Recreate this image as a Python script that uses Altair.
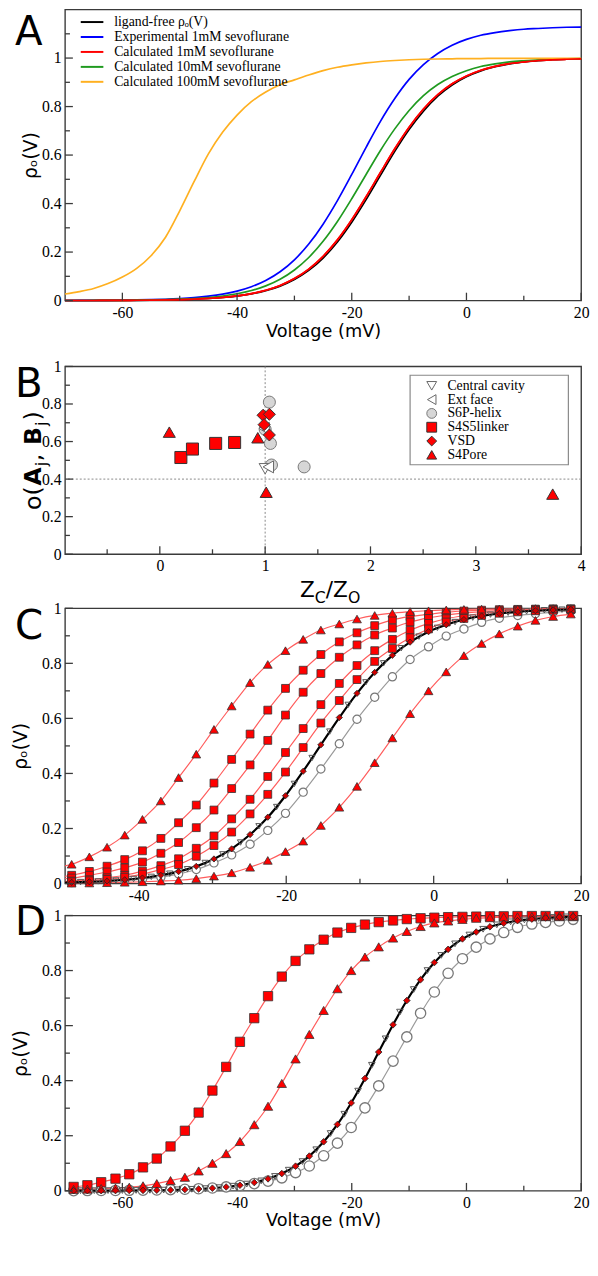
import altair as alt
import pandas as pd

# ---------------- Panel A data ----------------
A_V = [-70, -67.5, -65, -62.5, -60, -57.5, -55, -52.5, -50, -47.5, -45, -42.5, -40,
       -37.5, -35, -32.5, -30, -27.5, -25, -22.5, -20, -17.5, -15, -12.5, -10, -7.5,
       -5, -2.5, 0, 2.5, 5, 7.5, 10, 12.5, 15, 17.5, 20]
A_LIGAND_FREE = [0.0002, 0.0002, 0.0003, 0.0005, 0.0008, 0.0011, 0.0017, 0.0025, 0.0038, 0.0056,
                 0.0084, 0.0125, 0.0186, 0.0275, 0.0406, 0.0596, 0.0867, 0.1243, 0.1754, 0.2414,
                 0.3226, 0.416, 0.516, 0.615, 0.705, 0.781, 0.843, 0.889, 0.923, 0.947, 0.964,
                 0.976, 0.984, 0.989, 0.993, 0.995, 0.997]
A_EXP_1MM = [0.0003, 0.0005, 0.0008, 0.0011, 0.0017, 0.0025, 0.0037, 0.0055, 0.0082, 0.0121,
             0.018, 0.0265, 0.039, 0.057, 0.0826, 0.1187, 0.168, 0.233, 0.315, 0.412, 0.520,
             0.632, 0.739, 0.833, 0.912, 0.973, 1.019, 1.053, 1.077, 1.094, 1.105, 1.113, 1.119,
             1.122, 1.125, 1.127, 1.128]
A_CALC_1MM = [0.0002, 0.0002, 0.0004, 0.0005, 0.0008, 0.0012, 0.0018, 0.0026, 0.0039, 0.0059,
              0.0088, 0.0131, 0.0195, 0.0289, 0.0425, 0.0624, 0.0906, 0.1297, 0.1824, 0.2503,
              0.3332, 0.428, 0.528, 0.626, 0.715, 0.790, 0.849, 0.894, 0.926, 0.950, 0.966,
              0.977, 0.984, 0.990, 0.993, 0.995, 0.997]
A_CALC_10MM = [0.0002, 0.0003, 0.0005, 0.0008, 0.0011, 0.0017, 0.0026, 0.0038, 0.0057, 0.0085,
               0.0127, 0.0189, 0.0280, 0.0413, 0.0605, 0.0880, 0.1262, 0.1777, 0.2444, 0.326,
               0.420, 0.520, 0.619, 0.708, 0.784, 0.845, 0.891, 0.924, 0.948, 0.965, 0.976,
               0.984, 0.989, 0.993, 0.995, 0.997, 0.998]
A_CALC_100MM = [0.027, 0.037, 0.050, 0.070, 0.097, 0.133, 0.185, 0.26, 0.37, 0.49, 0.605, 0.695,
                0.765, 0.82, 0.86, 0.89, 0.91, 0.93, 0.948, 0.962, 0.972, 0.98, 0.986, 0.99,
                0.993, 0.995, 0.996, 0.997, 0.998, 0.998, 0.999, 0.999, 0.999, 0.999, 0.999,
                0.999, 0.999]
A_SERIES = ["ligand-free \u03c1\u2092(V)", "Experimental 1mM sevoflurane",
            "Calculated 1mM sevoflurane", "Calculated 10mM sevoflurane",
            "Calculated 100mM sevoflurane"]
A_COLORS = ["#000000", "#0000ff", "#ff0000", "#1f9a1f", "#ffb020"]
A_X_MAJOR = [-60, -40, -20, 0, 20]
A_X_MINOR = [-50, -30, -10, 10]
A_Y_MAJOR = [0, 0.2, 0.4, 0.6, 0.8, 1]
A_Y_MINOR = [0.1, 0.3, 0.5, 0.7, 0.9, 1.1]

# ---------------- Panel B data ----------------
B_GROUPS = ["Central cavity", "Ext face", "S6P-helix", "S4S5linker", "VSD", "S4Pore"]
B_SHAPES = ["triangle-down", "triangle-left", "circle", "square", "diamond", "triangle-up"]
B_FILLS = ["#ffffff", "#ffffff", "#d6d6d6", "#ff0000", "#ff0000", "#ff0000"]
B_STROKES = ["#666666", "#666666", "#777777", "#333333", "#333333", "#333333"]
B_S6P_X = [1.00, 1.04, 1.05, 1.06, 1.37]
B_S6P_Y = [0.665, 0.81, 0.59, 0.475, 0.465]
B_CAV_X = [1.00]
B_CAV_Y = [0.455]
B_EXT_X = [0.99, 1.03]
B_EXT_Y = [0.67, 0.465]
B_S4S5_X = [0.20, 0.31, 0.53, 0.71]
B_S4S5_Y = [0.515, 0.56, 0.59, 0.595]
B_S4P_X = [0.09, 0.93, 1.01, 3.73]
B_S4P_Y = [0.65, 0.62, 0.33, 0.32]
B_VSD_X = [0.98, 1.04, 0.99, 1.04]
B_VSD_Y = [0.74, 0.745, 0.69, 0.635]
B_VLINE = [1]
B_HLINE = [0.4]
B_X_MAJOR = [0, 1, 2, 3, 4]
B_X_MINOR = [-0.5, 0.5, 1.5, 2.5, 3.5]
B_Y_MAJOR = [0, 0.2, 0.4, 0.6, 0.8, 1]
B_Y_MINOR = [0.1, 0.3, 0.5, 0.7, 0.9]

# ---------------- Panels C / D data ----------------
G = [-68.5, -66.1, -63.7, -61.2, -58.8, -56.4, -54.0, -51.6, -49.1, -46.7, -44.3, -41.9,
     -39.5, -37.0, -34.6, -32.2, -29.8, -27.4, -24.9, -22.5, -20.1, -17.7, -15.3, -12.8,
     -10.4, -8.0, -5.6, -3.2, -0.7, 1.7, 4.1, 6.5, 8.9, 11.4, 13.8, 16.2, 18.6]
LIGAND_FREE = [0.0002, 0.0003, 0.0004, 0.0006, 0.0009, 0.0013, 0.002, 0.0029, 0.0044, 0.0064,
               0.0094, 0.0138, 0.0201, 0.0298, 0.0433, 0.0624, 0.0894, 0.126, 0.178, 0.241,
               0.319, 0.408, 0.504, 0.603, 0.691, 0.767, 0.829, 0.877, 0.915, 0.940, 0.959,
               0.972, 0.981, 0.987, 0.991, 0.994, 0.996]
CAV_V = [-67.3, -64.9, -62.5, -60.0, -57.6, -55.2, -52.8, -50.4, -47.9, -45.5, -43.1, -40.7,
         -38.3, -35.8, -33.4, -31.0, -28.6, -26.2, -23.7, -21.3, -18.9, -16.5, -14.1, -11.6,
         -9.2, -6.8, -4.4, -2.0, 0.5, 2.9, 5.3, 7.7, 10.1, 12.6, 15.0, 17.4]
CAV_Y = [0.0002, 0.0003, 0.0005, 0.0008, 0.0011, 0.0016, 0.0024, 0.0035, 0.0053, 0.0077,
         0.0113, 0.0166, 0.0243, 0.0359, 0.052, 0.0748, 0.106, 0.149, 0.208, 0.278, 0.362,
         0.456, 0.552, 0.649, 0.731, 0.800, 0.855, 0.897, 0.929, 0.950, 0.966, 0.977, 0.984,
         0.989, 0.993, 0.995]
C_T1 = [0.012, 0.015, 0.019, 0.024, 0.030, 0.037, 0.045, 0.056, 0.070, 0.097, 0.132, 0.176,
        0.233, 0.300, 0.385, 0.470, 0.560, 0.645, 0.730, 0.796, 0.846, 0.887, 0.921, 0.943,
        0.961, 0.974, 0.982, 0.988, 0.991, 0.994, 0.996, 0.997, 0.998, 0.998, 0.999, 0.999, 0.999]
C_S1 = [0.0018, 0.0025, 0.0036, 0.005, 0.0075, 0.0105, 0.015, 0.021, 0.030, 0.044, 0.063, 0.087,
        0.119, 0.164, 0.221, 0.285, 0.365, 0.451, 0.543, 0.630, 0.709, 0.775, 0.832, 0.878,
        0.911, 0.937, 0.958, 0.970, 0.978, 0.985, 0.990, 0.993, 0.995, 0.996, 0.997, 0.998, 0.998]
C_S2 = [0.002, 0.003, 0.004, 0.005, 0.007, 0.010, 0.013, 0.016, 0.020, 0.030, 0.042, 0.057,
        0.078, 0.110, 0.149, 0.203, 0.267, 0.345, 0.431, 0.520, 0.612, 0.695, 0.763, 0.822,
        0.867, 0.903, 0.928, 0.950, 0.965, 0.975, 0.983, 0.988, 0.991, 0.994, 0.995, 0.996, 0.997]
C_S3 = [0.0004, 0.0006, 0.0009, 0.0014, 0.002, 0.003, 0.0042, 0.006, 0.009, 0.014, 0.021, 0.030,
        0.045, 0.065, 0.090, 0.128, 0.173, 0.235, 0.306, 0.389, 0.476, 0.563, 0.650, 0.727,
        0.792, 0.846, 0.887, 0.920, 0.945, 0.962, 0.973, 0.981, 0.987, 0.991, 0.993, 0.995, 0.996]
C_S4 = [0.0002, 0.0003, 0.0005, 0.0008, 0.0012, 0.0018, 0.0027, 0.004, 0.006, 0.010, 0.015,
        0.023, 0.034, 0.051, 0.069, 0.099, 0.138, 0.187, 0.253, 0.324, 0.405, 0.494, 0.583,
        0.665, 0.741, 0.807, 0.854, 0.893, 0.925, 0.950, 0.963, 0.974, 0.982, 0.987, 0.991,
        0.993, 0.995]
C_CIRC = [0.0002, 0.0003, 0.0004, 0.0006, 0.0009, 0.0013, 0.0018, 0.0025, 0.0035, 0.005, 0.007,
          0.011, 0.016, 0.023, 0.035, 0.051, 0.075, 0.104, 0.143, 0.193, 0.255, 0.332, 0.416,
          0.508, 0.597, 0.677, 0.751, 0.814, 0.860, 0.899, 0.925, 0.949, 0.964, 0.974, 0.980,
          0.986, 0.990]
C_T2 = [0.0001, 0.0001, 0.0002, 0.0002, 0.0003, 0.0004, 0.0006, 0.0009, 0.0013, 0.002, 0.003,
        0.0045, 0.0065, 0.009, 0.012, 0.018, 0.027, 0.039, 0.059, 0.084, 0.116, 0.154, 0.211,
        0.277, 0.353, 0.439, 0.529, 0.617, 0.700, 0.769, 0.828, 0.872, 0.907, 0.935, 0.956,
        0.970, 0.979]
D_SQ = [0.014, 0.020, 0.031, 0.044, 0.060, 0.085, 0.117, 0.161, 0.218, 0.284, 0.364, 0.450,
        0.541, 0.627, 0.707, 0.778, 0.835, 0.877, 0.912, 0.938, 0.955, 0.967, 0.976, 0.982,
        0.987, 0.990, 0.992, 0.994, 0.995, 0.996, 0.997, 0.997, 0.998, 0.998, 0.998, 0.998, 0.998]
D_TRI = [0.005, 0.006, 0.008, 0.010, 0.013, 0.018, 0.026, 0.037, 0.049, 0.072, 0.100, 0.135,
         0.179, 0.240, 0.307, 0.390, 0.479, 0.568, 0.655, 0.734, 0.800, 0.849, 0.886, 0.918,
         0.942, 0.960, 0.973, 0.980, 0.986, 0.990, 0.992, 0.994, 0.995, 0.996, 0.997, 0.998, 0.998]
D_CIRC = [0.0005, 0.0007, 0.0009, 0.0012, 0.0016, 0.0022, 0.003, 0.004, 0.0055, 0.0075, 0.010,
          0.014, 0.019, 0.026, 0.035, 0.047, 0.066, 0.090, 0.127, 0.173, 0.230, 0.301, 0.381,
          0.471, 0.559, 0.645, 0.722, 0.790, 0.843, 0.885, 0.915, 0.938, 0.957, 0.969, 0.975,
          0.980, 0.986]
C_X_MAJOR = [-40, -20, 0, 20]
C_X_MINOR = [-30, -10, 10]
D_X_MAJOR = [-60, -40, -20, 0, 20]
D_X_MINOR = [-50, -30, -10, 10]
CD_Y_MAJOR = [0, 0.2, 0.4, 0.6, 0.8, 1]
CD_Y_MINOR = [0.1, 0.3, 0.5, 0.7, 0.9]

# ---------------- styling ----------------
W = 525
HA, HB, HC, HD = 296, 191, 280, 280
SERIF = "Liberation Serif"
SANS = "DejaVu Sans"
FRAME = "#3a3a3a"
RED_LINE = "#ff5c5c"
ONE = alt.Data(values=[{"k": 0}])
RHO = "\u03c1\u2092(V)"


def txt(text, x, y, size, angle=0, weight="normal", align="left", baseline="alphabetic", font=SANS):
    kw = dict(text=text, fontSize=size, font=font, fontWeight=weight, align=align,
              baseline=baseline, color="black")
    if angle:
        kw["angle"] = angle
    return alt.Chart(ONE).mark_text(**kw).encode(x=alt.value(x), y=alt.value(y))


def letter(ch, y):
    return txt(ch, -51, y, 41, baseline="top")


def spacer():
    return alt.Chart(ONE).mark_rule(color="white", strokeWidth=1).encode(
        x=alt.value(-56), x2=alt.value(-56), y=alt.value(20), y2=alt.value(24))


def xaxis(vals, title=None, title_y=None):
    kw = dict(values=vals, ticks=False, tickSize=0, domain=False, grid=False,
              labelFont=SERIF, labelFontSize=16, labelColor="black", labelPadding=4,
              labelExpr="'' + datum.value", labelFlush=False, labelOverlap=False)
    if title is None:
        kw["title"] = None
    else:
        kw.update(title=title, titleFont=SANS, titleFontSize=18, titleFontWeight="normal",
                  titleColor="black", titleY=title_y, titleBaseline="middle")
    return alt.Axis(**kw)


def yaxis(vals, h, title=None, title_x=None):
    kw = dict(values=vals, ticks=False, tickSize=0, domain=False, grid=False,
              labelFont=SERIF, labelFontSize=16, labelColor="black", labelPadding=4,
              labelExpr="'' + datum.value", labelFlush=False, labelOverlap=False)
    if title is None:
        kw["title"] = None
    else:
        kw.update(title=title, titleFont=SANS, titleFontSize=19, titleFontWeight="normal",
                  titleColor="black", titleX=title_x, titleY=h / 2, titleAngle=270,
                  titleAlign="center", titleBaseline="middle")
    return alt.Axis(**kw)


def ticks(xs, ys, ax, ay, xmaj, xmin, ymaj, ymin, h):
    out = []
    for vals, ln in ((xmaj, 8), (xmin, 5)):
        out.append(alt.Chart(pd.DataFrame({"t": vals})).mark_rule(color=FRAME, strokeWidth=1.3).encode(
            x=alt.X("t:Q", scale=xs, axis=ax), y=alt.value(h), y2=alt.value(h - ln)))
    for vals, ln in ((ymaj, 8), (ymin, 5)):
        out.append(alt.Chart(pd.DataFrame({"t": vals})).mark_rule(color=FRAME, strokeWidth=1.3).encode(
            y=alt.Y("t:Q", scale=ys, axis=ay), x=alt.value(0), x2=alt.value(ln)))
    return out


def sdf(v, y, name):
    return pd.DataFrame({"v": v, "rho": y, "s": name})


def xy(xs, ys, ax, ay):
    return dict(x=alt.X("v:Q", scale=xs, axis=ax), y=alt.Y("rho:Q", scale=ys, axis=ay))


# ---------------- Panel A ----------------
xA = alt.Scale(domain=[-70, 20], nice=False, zero=False)
yA = alt.Scale(domain=[0, 1.2], nice=False, zero=False)
axA = xaxis(A_X_MAJOR, "Voltage (mV)", 32)
ayA = yaxis(A_Y_MAJOR, HA, RHO, -35)
A_DATA = [A_LIGAND_FREE, A_EXP_1MM, A_CALC_1MM, A_CALC_10MM, A_CALC_100MM]
linesA = [alt.Chart(sdf(A_V, vals, name)).mark_line(
    strokeWidth=1.7, interpolate="monotone", color=col).encode(**xy(xA, yA, axA, ayA))
    for name, vals, col in zip(A_SERIES, A_DATA, A_COLORS)]
# red curve drawn again on top of the nearly coincident black one
linesA.append(alt.Chart(sdf(A_V, A_CALC_1MM, "red")).mark_line(
    strokeWidth=1.7, interpolate="monotone", color=A_COLORS[2]).encode(**xy(xA, yA, axA, ayA)))
legendA = []
for i, (name, col) in enumerate(zip(A_SERIES, A_COLORS)):
    yy = 12.7 + 15.2 * i
    legendA.append(alt.Chart(ONE).mark_rule(color=col, strokeWidth=2).encode(
        x=alt.value(16), x2=alt.value(39), y=alt.value(yy)))
    legendA.append(txt(name, 50, yy, 14, baseline="middle", font=SERIF))
panelA = alt.layer(
    *linesA, *ticks(xA, yA, axA, ayA, A_X_MAJOR, A_X_MINOR, A_Y_MAJOR, A_Y_MINOR, HA),
    *legendA, letter("A", 4), spacer()
).properties(width=W, height=HA)

# ---------------- Panel B ----------------
xB = alt.Scale(domain=[-0.9, 4], nice=False, zero=False)
yB = alt.Scale(domain=[0, 1], nice=False, zero=False)
axB = xaxis(B_X_MAJOR)
ayB = yaxis(B_Y_MAJOR, HB)
B_XS = [B_CAV_X, B_EXT_X, B_S6P_X, B_S4S5_X, B_VSD_X, B_S4P_X]
B_YS = [B_CAV_Y, B_EXT_Y, B_S6P_Y, B_S4S5_Y, B_VSD_Y, B_S4P_Y]
refB = [
    alt.Chart(pd.DataFrame({"t": B_VLINE})).mark_rule(color="#888888", strokeDash=[2, 2], strokeWidth=1).encode(
        x=alt.X("t:Q", scale=xB, axis=axB)),
    alt.Chart(pd.DataFrame({"t": B_HLINE})).mark_rule(color="#888888", strokeDash=[2, 2], strokeWidth=1).encode(
        y=alt.Y("t:Q", scale=yB, axis=ayB)),
]
draw_order = [2, 0, 1, 3, 5, 4]  # circles first, diamonds last
pointsB = []
for k in draw_order:
    pointsB.append(alt.Chart(pd.DataFrame({"zx": B_XS[k], "o": B_YS[k]})).mark_point(
        shape=B_SHAPES[k], size=150, filled=True, fill=B_FILLS[k], stroke=B_STROKES[k],
        strokeWidth=1, opacity=1).encode(
        x=alt.X("zx:Q", scale=xB, axis=axB), y=alt.Y("o:Q", scale=yB, axis=ayB)))
boxB = alt.Chart(ONE).mark_rect(fill="white", stroke="#888888", strokeWidth=1.2).encode(
    x=alt.value(351), x2=alt.value(512), y=alt.value(9), y2=alt.value(100))
legendB = []
for i, name in enumerate(B_GROUPS):
    yy = 19.7 + 14.05 * i
    legendB.append(alt.Chart(ONE).mark_point(
        shape=B_SHAPES[i], size=100, filled=True, fill=B_FILLS[i], stroke=B_STROKES[i],
        strokeWidth=1, opacity=1).encode(x=alt.value(373), y=alt.value(yy)))
    legendB.append(txt(name, 389, yy, 14, baseline="middle", font=SERIF))
titleB = [
    txt("o(", -31, 146, 24, angle=270, baseline="middle"),
    txt("A", -31, 121, 24, angle=270, weight="bold", baseline="middle"),
    txt("j", -23, 101.5, 16, angle=270, baseline="middle"),
    txt(",", -31, 96.5, 24, angle=270, baseline="middle"),
    txt("B", -31, 80, 24, angle=270, weight="bold", baseline="middle"),
    txt("j", -23, 60.5, 16, angle=270, baseline="middle"),
    txt(")", -31, 55, 24, angle=270, baseline="middle"),
    txt("Z", 239, HB + 44, 22),
    txt("C", 254, HB + 50, 16),
    txt("/", 265.3, HB + 44, 22),
    txt("Z", 272.7, HB + 44, 22),
    txt("O", 287.8, HB + 50, 16),
]
panelB = alt.layer(
    *refB, boxB, *pointsB, *ticks(xB, yB, axB, ayB, B_X_MAJOR, B_X_MINOR, B_Y_MAJOR, B_Y_MINOR, HB),
    *legendB, *titleB, letter("B", -0.5), spacer()
).properties(width=W, height=HB)

# ---------------- Panel C ----------------
xC = alt.Scale(domain=[-50, 20], nice=False, zero=False)
yC = alt.Scale(domain=[0, 1], nice=False, zero=False)
axC = xaxis(C_X_MAJOR)
ayC = yaxis(CD_Y_MAJOR, HC, RHO, -45)
c_red = pd.concat([sdf(G, C_T1, "T1"), sdf(G, C_S1, "S1"), sdf(G, C_S2, "S2"),
                   sdf(G, C_S3, "S3"), sdf(G, C_S4, "S4"), sdf(G, C_T2, "T2")])
c_sq = pd.concat([sdf(G, C_S1, "S1"), sdf(G, C_S2, "S2"), sdf(G, C_S3, "S3"), sdf(G, C_S4, "S4")])
c_tri = pd.concat([sdf(G, C_T1, "T1"), sdf(G, C_T2, "T2")])
c_blk = sdf(G, LIGAND_FREE, "free")
c_cav = sdf(CAV_V, CAV_Y, "cav")
c_circ = sdf(G, C_CIRC, "circ")
keepC = alt.datum.v >= -50
eC = xy(xC, yC, axC, ayC)
panelC = alt.layer(
    alt.Chart(c_red).mark_line(color=RED_LINE, strokeWidth=1.2, interpolate="monotone", clip=True).encode(
        detail="s:N", **eC),
    alt.Chart(c_circ).mark_line(color="#9a9a9a", strokeWidth=1.2, interpolate="monotone", clip=True).encode(**eC),
    alt.Chart(c_blk).mark_line(color="black", strokeWidth=2.2, interpolate="monotone", clip=True).encode(**eC),
    alt.Chart(c_circ).transform_filter(keepC).mark_point(
        shape="circle", size=70, fill="white", stroke="#777777", strokeWidth=1.2, filled=False, opacity=1).encode(**eC),
    alt.Chart(c_sq).transform_filter(keepC).mark_point(
        shape="square", size=64, filled=True, fill="#ff0000", stroke="#333333", strokeWidth=0.8, opacity=1).encode(**eC),
    alt.Chart(c_tri).transform_filter(keepC).mark_point(
        shape="triangle-up", size=80, filled=True, fill="#ff0000", stroke="#333333", strokeWidth=0.8, opacity=1).encode(**eC),
    alt.Chart(c_cav).transform_filter(keepC).mark_point(
        shape="triangle-down", size=40, filled=False, stroke="#555555", strokeWidth=1, opacity=1).encode(**eC),
    alt.Chart(c_blk).transform_filter(keepC).mark_point(
        shape="diamond", size=40, filled=True, fill="#cc0000", stroke="#222222", strokeWidth=0.8, opacity=1).encode(**eC),
    *ticks(xC, yC, axC, ayC, C_X_MAJOR, C_X_MINOR, CD_Y_MAJOR, CD_Y_MINOR, HC),
    letter("C", -0.5), spacer()
).properties(width=W, height=HC)

# ---------------- Panel D ----------------
xD = alt.Scale(domain=[-70, 20], nice=False, zero=False)
yD = alt.Scale(domain=[0, 1], nice=False, zero=False)
axD = xaxis(D_X_MAJOR, "Voltage (mV)", 30)
ayD = yaxis(CD_Y_MAJOR, HD, RHO, -45)
eD = xy(xD, yD, axD, ayD)
d_sq = sdf(G, D_SQ, "sq")
d_tri = sdf(G, D_TRI, "tri")
d_circ = sdf(G, D_CIRC, "circ")
d_blk = sdf(G, LIGAND_FREE, "free")
d_cav = sdf(CAV_V, CAV_Y, "cav")
panelD = alt.layer(
    alt.Chart(pd.concat([d_sq, d_tri])).mark_line(color=RED_LINE, strokeWidth=1.2, interpolate="monotone").encode(
        detail="s:N", **eD),
    alt.Chart(d_circ).mark_line(color="#9a9a9a", strokeWidth=1.2, interpolate="monotone").encode(**eD),
    alt.Chart(d_blk).mark_line(color="black", strokeWidth=2.2, interpolate="monotone").encode(**eD),
    alt.Chart(d_circ).mark_point(shape="circle", size=110, fill="white", stroke="#777777", strokeWidth=1.3,
                                 filled=False, opacity=1).encode(**eD),
    alt.Chart(d_sq).mark_point(shape="square", size=90, filled=True, fill="#ff0000", stroke="#333333",
                               strokeWidth=0.8, opacity=1).encode(**eD),
    alt.Chart(d_tri).mark_point(shape="triangle-up", size=90, filled=True, fill="#ff0000", stroke="#333333",
                                strokeWidth=0.8, opacity=1).encode(**eD),
    alt.Chart(d_cav).mark_point(shape="triangle-down", size=45, filled=False, stroke="#555555",
                                strokeWidth=1, opacity=1).encode(**eD),
    alt.Chart(d_blk).mark_point(shape="diamond", size=45, filled=True, fill="#dd0000", stroke="#222222",
                                strokeWidth=0.8, opacity=1).encode(**eD),
    *ticks(xD, yD, axD, ayD, D_X_MAJOR, D_X_MINOR, CD_Y_MAJOR, CD_Y_MINOR, HD),
    letter("D", -12.5), spacer()
).properties(width=W, height=HD)

chart = alt.vconcat(
    alt.vconcat(panelA, panelB, spacing=16),
    alt.vconcat(panelC, panelD, spacing=-3.5),
    spacing=-8,
).properties(
    padding={"left": 0, "top": -10, "right": 0, "bottom": 0}
).configure_view(stroke=FRAME, strokeWidth=1.4)

chart.save("out.html", embed_options={"renderer": "svg", "actions": False})
